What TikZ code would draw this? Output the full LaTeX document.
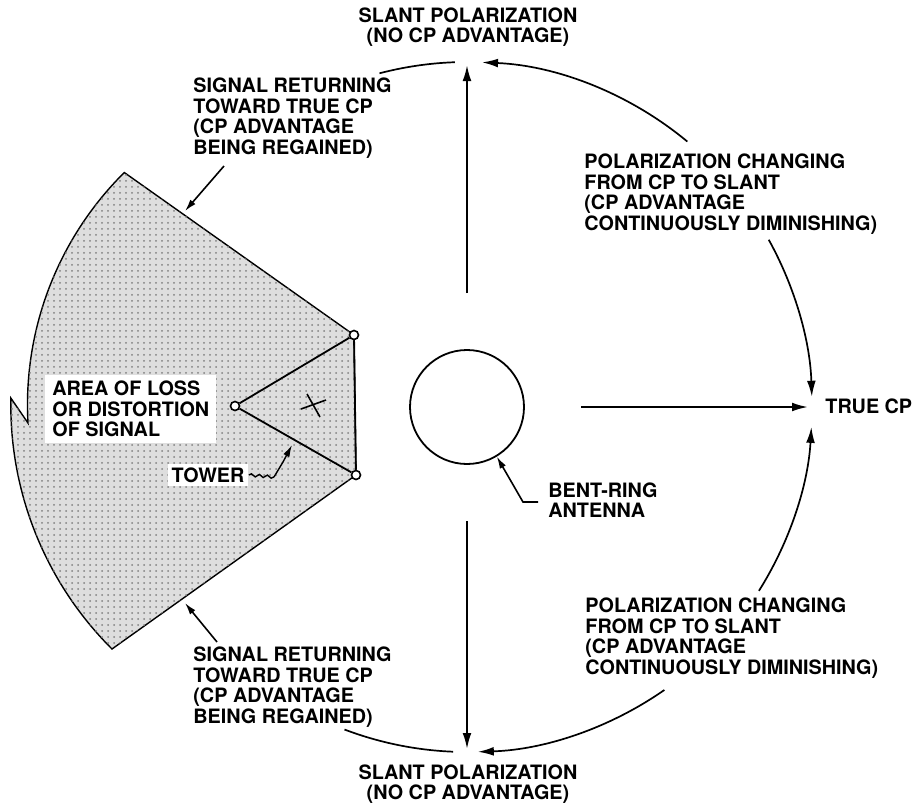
\documentclass[tikz,border=0pt]{standalone}
\usepackage{fontspec}
\setmainfont{TeX Gyre Heros}
\usetikzlibrary{arrows.meta,patterns,decorations.pathmorphing,calc}

\begin{document}
\begin{tikzpicture}[x=0.5pt, y=0.5pt,
    lbl/.style={font=\fontsize{9.9}{10.3}\selectfont\bfseries, align=left, inner sep=0pt},
    arrow/.style={line width=1pt, -{Latex[length=8pt,width=4.4pt]}},
    arcline/.style={line width=0.85pt},
    leader/.style={line width=0.8pt, -{Latex[length=6pt,width=3.4pt]}},
    pin/.style={circle, draw, fill=white, line width=0.8pt, inner sep=0pt, minimum size=4.5pt}]

    \useasboundingbox (0,0) rectangle (912,-805);

    \draw[line width=0.7pt, fill=black!13, postaction={pattern=dots, pattern color=black!50}]
        (125,-173) -- (354,-335) -- (356,-475) -- (112,-649)
        arc[start angle=225.1, end angle=178.8, radius=344] -- (28,-423)
        arc[start angle=183.2, end angle=134.75, radius=327] -- cycle;

    \node [pin] (t1) at (235,-406) {};
    \node [pin] (t2) at (354,-335) {};
    \node [pin] (t3) at (356,-475) {};
    \draw [line width=0.9pt] (t1) -- (t2) -- (t3) -- (t1);
    \draw [line width=0.8pt] (301,-409) -- (326,-400);
    \draw [line width=0.8pt] (307,-394) -- (320,-417);

    \node [draw, circle, line width=0.9pt, minimum size=57pt, inner sep=0pt] (ant) at (467,-407) {};

    \node [lbl, align=center] (slantN) at (468,-27) {SLANT POLARIZATION\\(NO CP ADVANTAGE)};
    \node [lbl, align=center] (slantS) at (468,-784) {SLANT POLARIZATION\\(NO CP ADVANTAGE)};
    \node [lbl, anchor=west] (trueCP) at (825,-406) {TRUE CP};
    \node [lbl, anchor=west] (changeN) at (584,-194) {POLARIZATION CHANGING\\FROM CP TO SLANT\\(CP ADVANTAGE\\CONTINUOUSLY DIMINISHING)};
    \node [lbl, anchor=west] (changeS) at (585,-638) {POLARIZATION CHANGING\\FROM CP TO SLANT\\(CP ADVANTAGE\\CONTINUOUSLY DIMINISHING)};
    \node [lbl, anchor=west] (returnN) at (193,-118) {SIGNAL RETURNING\\TOWARD TRUE CP\\(CP ADVANTAGE\\BEING REGAINED)};
    \node [lbl, anchor=west] (returnS) at (193,-687) {SIGNAL RETURNING\\TOWARD TRUE CP\\(CP ADVANTAGE\\BEING REGAINED)};
    \node [lbl, anchor=west, fill=white, inner xsep=3.5pt, inner ysep=3pt] (loss) at (45,-409) {AREA OF LOSS\\OR DISTORTION\\OF SIGNAL};
    \node [lbl, fill=white, inner sep=2pt] (tower) at (208,-475) {TOWER};
    \node [lbl, anchor=west] (bent) at (548,-500) {BENT-RING\\ANTENNA};

    \coordinate (up0) at ($(ant)+(90:114)$);
    \coordinate (up1) at ($(ant)+(90:342)$);
    \coordinate (dn0) at ($(ant)+(-90:114)$);
    \coordinate (dn1) at ($(ant)+(-90:342)$);
    \coordinate (rt0) at ($(ant)+(0:114)$);
    \coordinate (rt1) at ($(ant)+(0:341)$);
    \draw [arrow] (up0) -- (up1);
    \draw [arrow] (dn0) -- (dn1);
    \draw [arrow] (rt0) -- (rt1);

    \coordinate (a1) at ($(ant)+(50.3:345)$);
    \coordinate (a2) at ($(ant)+(29:345)$);
    \coordinate (a3) at ($(ant)+(-32.2:345)$);
    \coordinate (a4) at ($(ant)+(-55.1:345)$);
    \coordinate (a5) at ($(ant)+(104.7:345)$);
    \coordinate (a6) at ($(ant)+(-110.8:345)$);
    \draw [arrow, arcline] (a1) arc[start angle=50.3, end angle=87.5, radius=345];
    \draw [arrow, arcline] (a2) arc[start angle=29, end angle=1.7, radius=345];
    \draw [arrow, arcline] (a3) arc[start angle=-32.2, end angle=-3.3, radius=345];
    \draw [arrow, arcline] (a4) arc[start angle=-55.1, end angle=-88.2, radius=345];
    \draw [arcline] (a5) arc[start angle=104.7, end angle=92, radius=345];
    \draw [arcline] (a6) arc[start angle=-110.8, end angle=-92.3, radius=345];

    \coordinate (r1) at (224,-166);
    \coordinate (s1) at (185,-211);
    \coordinate (r2) at (217,-642);
    \coordinate (s2) at (185,-603);
    \draw [leader] (r1) -- (s1);
    \draw [leader] (r2) -- (s2);

    \coordinate (w1) at (274,-477);
    \coordinate (w2) at (292,-445);
    \draw [line width=0.7pt, decorate, decoration={snake, amplitude=0.7pt, segment length=4pt}] (tower.east) -- (w1);
    \draw [leader, line width=0.7pt] (w1) -- (283,-462) -- (w2);

    \coordinate (b1) at (523,-502);
    \draw [leader] ([xshift=-5pt]bent.west |- b1) -- (b1) -- (ant.-59);
\end{tikzpicture}
\end{document}
